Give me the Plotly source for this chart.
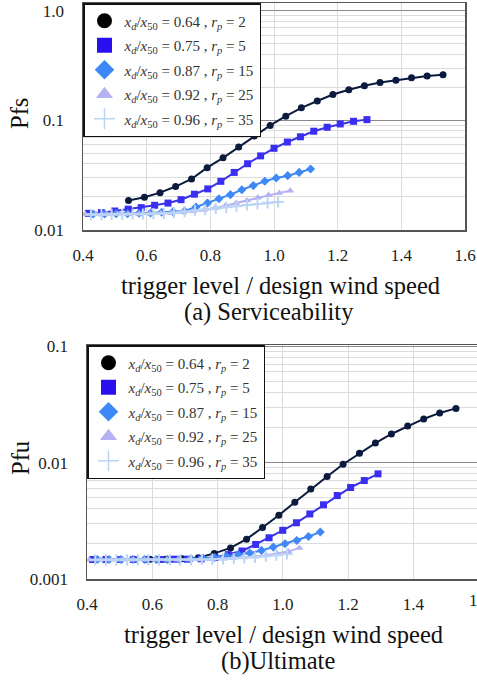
import plotly.graph_objects as go

# ---------------- data ----------------
labels = [
    "<i>x<sub>d</sub></i>/<i>x</i><sub>50</sub> = 0.64 , <i>r<sub>p</sub></i> = 2",
    "<i>x<sub>d</sub></i>/<i>x</i><sub>50</sub> = 0.75 , <i>r<sub>p</sub></i> = 5",
    "<i>x<sub>d</sub></i>/<i>x</i><sub>50</sub> = 0.87 , <i>r<sub>p</sub></i> = 15",
    "<i>x<sub>d</sub></i>/<i>x</i><sub>50</sub> = 0.92 , <i>r<sub>p</sub></i> = 25",
    "<i>x<sub>d</sub></i>/<i>x</i><sub>50</sub> = 0.96 , <i>r<sub>p</sub></i> = 35",
]

x1 = [0.543, 0.593, 0.642, 0.691, 0.741, 0.790, 0.840, 0.889, 0.938, 0.988, 1.037,
      1.086, 1.136, 1.185, 1.235, 1.284, 1.333, 1.383, 1.432, 1.481, 1.531]
x2 = [0.417, 0.458, 0.500, 0.542, 0.583, 0.625, 0.667, 0.708, 0.750, 0.792, 0.833,
      0.875, 0.917, 0.958, 1.000, 1.042, 1.083, 1.125, 1.167, 1.208, 1.250, 1.292]
x3 = [0.432, 0.468, 0.504, 0.540, 0.576, 0.612, 0.647, 0.683, 0.719, 0.755, 0.791,
      0.827, 0.863, 0.899, 0.935, 0.971, 1.007, 1.043, 1.079, 1.115]
x4 = [0.407, 0.441, 0.475, 0.508, 0.542, 0.576, 0.610, 0.644, 0.678, 0.712, 0.746,
      0.780, 0.814, 0.847, 0.881, 0.915, 0.949, 0.983, 1.017, 1.051]
x5 = [0.425, 0.458, 0.490, 0.523, 0.556, 0.588, 0.621, 0.654, 0.686, 0.719, 0.752,
      0.784, 0.817, 0.850, 0.882, 0.915, 0.948, 0.980, 1.013]

# (a) Serviceability  Pfs
pfs1 = [0.0186, 0.0199, 0.0219, 0.0249, 0.0292, 0.0370, 0.0455, 0.0572, 0.0718, 0.0898,
        0.109, 0.130, 0.150, 0.172, 0.190, 0.207, 0.221, 0.232, 0.245, 0.254, 0.261]
pfs2 = [0.0142, 0.0144, 0.0149, 0.0155, 0.0160, 0.0168, 0.0176, 0.0189, 0.0212, 0.0237,
        0.0278, 0.0335, 0.0402, 0.0474, 0.0556, 0.0634, 0.0708, 0.0796, 0.0865, 0.0927,
        0.0980, 0.1015]
pfs3 = [0.0140, 0.0140, 0.0141, 0.0141, 0.0142, 0.0143, 0.0145, 0.0147, 0.0149, 0.0162,
        0.0176, 0.0193, 0.0210, 0.0233, 0.0254, 0.0278, 0.0298, 0.0313, 0.0335, 0.0360]
pfs4 = [0.0140, 0.0140, 0.0140, 0.0140, 0.0140, 0.0140, 0.0141, 0.0142, 0.0143, 0.0145,
        0.0148, 0.0152, 0.0158, 0.0166, 0.0176, 0.0186, 0.0197, 0.0208, 0.0218, 0.0228]
pfs5 = [0.0138, 0.0138, 0.0139, 0.0139, 0.0140, 0.0140, 0.0141, 0.0142, 0.0144, 0.0147,
        0.0150, 0.0153, 0.0157, 0.0161, 0.0165, 0.0169, 0.0173, 0.0177, 0.0180]

# (b) Ultimate  Pfu
pfu1 = [0.00148, 0.00148, 0.00148, 0.00149, 0.00152, 0.00166, 0.00185, 0.00220, 0.00277,
        0.00353, 0.00456, 0.00592, 0.00759, 0.00968, 0.0120, 0.0147, 0.0176, 0.0206,
        0.0237, 0.0267, 0.0292]
pfu2 = [0.00147, 0.00147, 0.00147, 0.00147, 0.00147, 0.00147, 0.00148, 0.00148, 0.00149,
        0.00153, 0.00162, 0.00174, 0.00198, 0.00226, 0.00262, 0.00304, 0.00362, 0.00434,
        0.00521, 0.00611, 0.00701, 0.00800]
pfu3 = [0.00147, 0.00147, 0.00147, 0.00147, 0.00147, 0.00147, 0.00147, 0.00147, 0.00149,
        0.00151, 0.00153, 0.00157, 0.00162, 0.00167, 0.00176, 0.00188, 0.00201, 0.00214,
        0.00232, 0.00253]
pfu4 = [0.00146, 0.00146, 0.00146, 0.00146, 0.00146, 0.00146, 0.00146, 0.00146, 0.00146,
        0.00147, 0.00147, 0.00148, 0.00149, 0.00151, 0.00153, 0.00156, 0.00160, 0.00165,
        0.00172, 0.00185]
pfu5 = [0.00146, 0.00146, 0.00146, 0.00146, 0.00146, 0.00146, 0.00146, 0.00146, 0.00146,
        0.00146, 0.00147, 0.00148, 0.00149, 0.00150, 0.00152, 0.00154, 0.00157, 0.00160,
        0.00164]

x_ticks = [0.4, 0.6, 0.8, 1.0, 1.2, 1.4, 1.6]
x_tick_text = ["0.4", "0.6", "0.8", "1.0", "1.2", "1.4", "1.6"]
pfs_ticks = [0.01, 0.1, 1.0]
pfs_tick_text = ["0.01", "0.1", "1.0"]
pfu_ticks = [0.001, 0.01, 0.1]
pfu_tick_text = ["0.001", "0.01", "0.1"]

# ---------------- styling ----------------
xs = [x1, x2, x3, x4, x5]
ys_top = [pfs1, pfs2, pfs3, pfs4, pfs5]
ys_bot = [pfu1, pfu2, pfu3, pfu4, pfu5]
symbols = ["circle", "square", "diamond", "triangle-up", "cross-thin"]
line_colors = ["#0b1a3d", "#3a32e6", "#3f88f2", "#b4b2f0", "#bcd5f5"]
marker_colors = ["#0b1a3d", "#3a2ef0", "#3f88f5", "#b4b2f2", "#bcd5f5"]
legend_colors = ["#000000", "#2a10f0", "#3d87f7", "#b4b2f2", "#bcd5f5"]
sizes = [7, 7, 7, 7, 8]

SERIF = "Liberation Serif, Times New Roman, serif"
W, H = 477, 680

fig = go.Figure()

for i in range(5):
    mk = dict(symbol=symbols[i], size=sizes[i], color=marker_colors[i])
    if symbols[i] == "cross-thin":
        mk["line"] = dict(color=marker_colors[i], width=2)
    fig.add_trace(go.Scatter(x=xs[i], y=ys_top[i], mode="lines+markers",
                             line=dict(color=line_colors[i], width=2), marker=mk,
                             xaxis="x", yaxis="y", showlegend=False, hoverinfo="skip"))
    fig.add_trace(go.Scatter(x=xs[i], y=ys_bot[i], mode="lines+markers",
                             line=dict(color=line_colors[i], width=2), marker=mk,
                             xaxis="x2", yaxis="y2", showlegend=False, hoverinfo="skip"))

# legend-only entries (marker only, as in the reference)
for lg in ["legend", "legend2"]:
    for i in range(5):
        mk = dict(symbol=symbols[i], size=15, color=legend_colors[i])
        if symbols[i] == "cross-thin":
            mk["line"] = dict(color=legend_colors[i], width=1.5)
        fig.add_trace(go.Scatter(x=[None], y=[None], mode="markers", marker=mk,
                                 name=labels[i], legend=lg, legendgroup=f"{lg}_{i}",
                                 showlegend=True, xaxis="x", yaxis="y"))

grid_minor = "#dcdcdc"
grid_major = "#8a8a8a"
axis_line = "#555555"
tickfont = dict(family=SERIF, size=17, color="#222222")

def xaxis(domain, anchor, rng):
    return dict(domain=domain, anchor=anchor, range=rng, tickmode="array",
                tickvals=x_ticks, ticktext=x_tick_text, tickfont=tickfont,
                showgrid=True, gridcolor=grid_minor, gridwidth=1,
                showline=True, linecolor=axis_line, linewidth=1.5, mirror=True,
                ticks="outside", ticklen=9, tickcolor="rgba(0,0,0,0)",
                ticklabeloverflow="allow",
                zeroline=False, fixedrange=True, automargin=False)

def yaxis(domain, anchor, rng, tv, tt):
    return dict(domain=domain, anchor=anchor, type="log", range=rng,
                tickmode="array", tickvals=tv, ticktext=tt, tickfont=tickfont,
                showgrid=True, gridcolor=grid_major, gridwidth=1.2,
                minor=dict(dtick="D1", showgrid=True, gridcolor=grid_minor,
                           gridwidth=1, ticks=""),
                showline=True, linecolor=axis_line, linewidth=1.5, mirror=True,
                ticks="outside", ticklen=14, tickcolor="rgba(0,0,0,0)",
                ticklabeloverflow="allow",
                zeroline=False, fixedrange=True, automargin=False)

legend_style = dict(xref="paper", yref="paper", xanchor="left", yanchor="top",
                    bgcolor="white", bordercolor="#111111", borderwidth=1.5,
                    font=dict(family=SERIF, size=15, color="#333333"),
                    itemsizing="trace", tracegroupgap=2)

fig.update_layout(
    width=W, height=H, margin=dict(l=0, r=0, t=0, b=0, pad=0, autoexpand=False),
    paper_bgcolor="white", plot_bgcolor="white",
    xaxis=xaxis([83 / W, 465 / W], "y", [0.4, 1.6]),
    yaxis=yaxis([1 - 230 / H, 1 - 3 / H], "x", [-2, 0.07], pfs_ticks, pfs_tick_text),
    xaxis2=xaxis([87 / W, 1.0], "y2", [0.4, 1.5954]),
    yaxis2=yaxis([1 - 579 / H, 1 - 345 / H], "x2", [-3, -0.99], pfu_ticks, pfu_tick_text),
    legend=dict(x=83 / W, y=1 - 3 / H, **legend_style),
    legend2=dict(x=87 / W, y=1 - 345 / H, **legend_style),
    showlegend=True,
)

ann_font = dict(family=SERIF, size=24.5, color="#111111")
common = dict(showarrow=False, xanchor="center", yanchor="middle")
fig.add_annotation(text="Pfs", xref="paper", yref="paper", x=20 / W, y=1 - 114 / H,
                   textangle=-90, font=ann_font, **common)
fig.add_annotation(text="Pfu", xref="paper", yref="paper", x=20 / W, y=1 - 458 / H,
                   textangle=-90, font=ann_font, **common)
fig.add_annotation(text="trigger level / design wind speed", xref="paper", yref="paper",
                   x=280 / W, y=1 - 285 / H, font=ann_font, **common)
fig.add_annotation(text="(a) Serviceability", xref="paper", yref="paper",
                   x=269 / W, y=1 - 312 / H, font=ann_font, **common)
fig.add_annotation(text="trigger level / design wind speed", xref="paper", yref="paper",
                   x=283 / W, y=1 - 634 / H, font=ann_font, **common)
fig.add_annotation(text="(b)Ultimate", xref="paper", yref="paper",
                   x=278 / W, y=1 - 661 / H, font=ann_font, **common)
# clipped "1.6" tick label at the right page edge of the lower chart
fig.add_annotation(text="1.6", xref="paper", yref="paper", x=479 / W, y=1 - 600 / H,
                   font=tickfont, **common)

fig.write_html("out.html", config={"displayModeBar": False, "staticPlot": True},
               post_script="document.body.style.margin='0';document.body.style.overflow='hidden';")
